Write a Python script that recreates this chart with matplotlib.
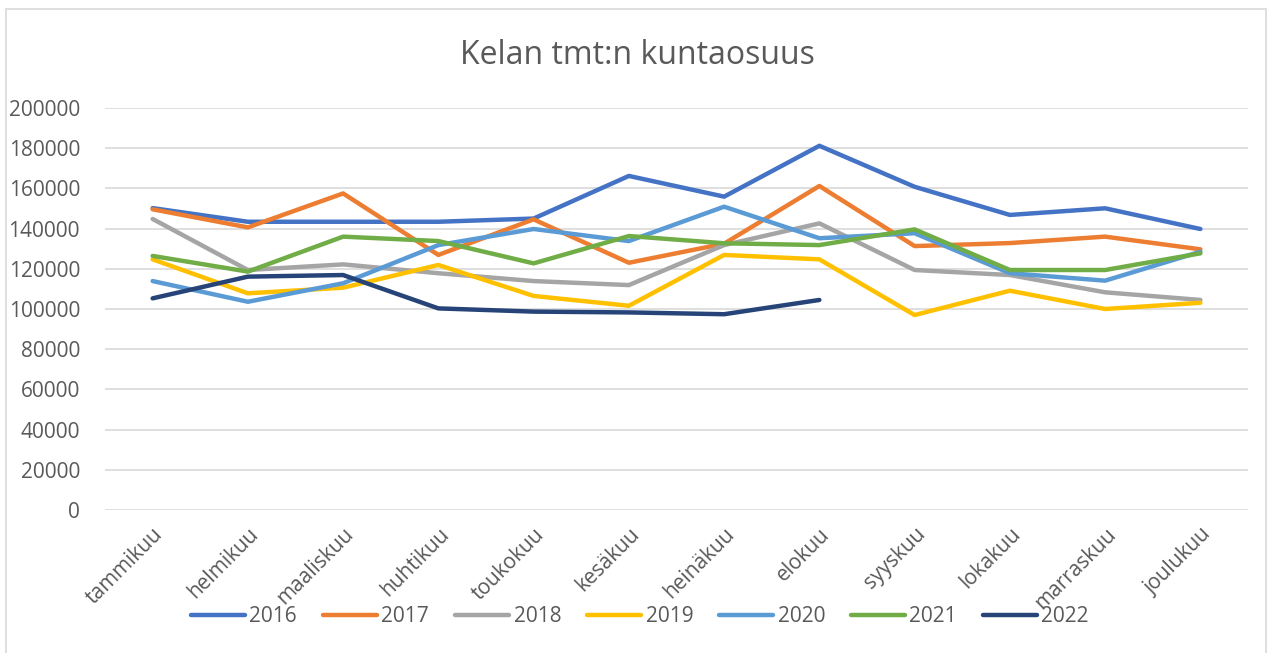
import matplotlib.pyplot as plt
from matplotlib.patches import Rectangle

months = ['tammikuu', 'helmikuu', 'maaliskuu', 'huhtikuu', 'toukokuu', 'kesäkuu',
          'heinäkuu', 'elokuu', 'syyskuu', 'lokakuu', 'marraskuu', 'joulukuu']

y2016 = [150200, 143400, 143400, 143400, 145000, 166200, 155900, 181200, 160800, 146800, 150100, 139800]
y2017 = [149600, 140600, 157500, 126900, 144600, 123000, 132500, 161200, 131300, 132800, 136000, 129700]
y2018 = [144800, 119400, 122200, 117800, 113900, 111900, 131800, 142600, 119400, 116900, 108300, 104500]
y2019 = [124700, 107800, 110600, 121900, 106500, 101600, 126900, 124700, 97000, 109100, 100000, 103100]
y2020 = [113900, 103600, 112800, 131800, 139800, 133800, 150900, 135200, 137700, 117800, 114100, 128500]
y2021 = [126400, 118600, 136000, 133800, 122700, 136300, 132700, 131800, 139600, 119400, 119400, 127700]
y2022 = [105300, 116100, 116900, 100300, 98700, 98300, 97400, 104500]

series = [('2016', y2016, '#4472C4'), ('2017', y2017, '#ED7D31'), ('2018', y2018, '#A5A5A5'),
          ('2019', y2019, '#FFC000'), ('2020', y2020, '#5B9BD5'), ('2021', y2021, '#70AD47'),
          ('2022', y2022, '#264478')]

plt.rcParams['font.family'] = ['Open Sans', 'DejaVu Sans']
txt = '#595959'

fig = plt.figure(figsize=(12.68, 6.53), dpi=100)
fig.patches.append(Rectangle((6 / 1268, -0.1), 1260 / 1268, 1 - 9 / 653 + 0.1,
                             transform=fig.transFigure, fill=False, edgecolor='#d9d9d9', lw=1.2))
ax = fig.add_axes([105 / 1268, 143 / 653, 1143 / 1268, 402 / 653])

for name, vals, col in series:
    ax.plot(range(len(vals)), vals, color=col, lw=3.2, label=name, solid_capstyle='round')

ax.set_xlim(-0.5, 11.5)
ax.set_ylim(0, 200000)
ax.set_yticks(range(0, 200001, 20000))
ax.set_xticks(range(12))
ax.set_xticklabels(months, rotation=45, ha='right', va='top', rotation_mode='anchor')
ax.grid(axis='y', color='#d9d9d9', lw=1.2)
ax.set_axisbelow(True)
for s in ax.spines.values():
    s.set_visible(False)
ax.tick_params(length=0, labelsize=15, colors=txt)
ax.tick_params(axis='y', pad=18)
ax.tick_params(axis='x', pad=10)

fig.text(637 / 1268, 1 - 55 / 653, 'Kelan tmt:n kuntaosuus', fontsize=23, color=txt,
         ha='center', va='center')

handles, labels = ax.get_legend_handles_labels()
fig.legend(handles, labels, loc='center', bbox_to_anchor=(640 / 1268, 1 - 617 / 653), ncol=7,
           frameon=False, fontsize=15, labelcolor=txt, handlelength=2.6, handletextpad=0.2,
           columnspacing=1.25)

fig.savefig('out.png', dpi=100)
